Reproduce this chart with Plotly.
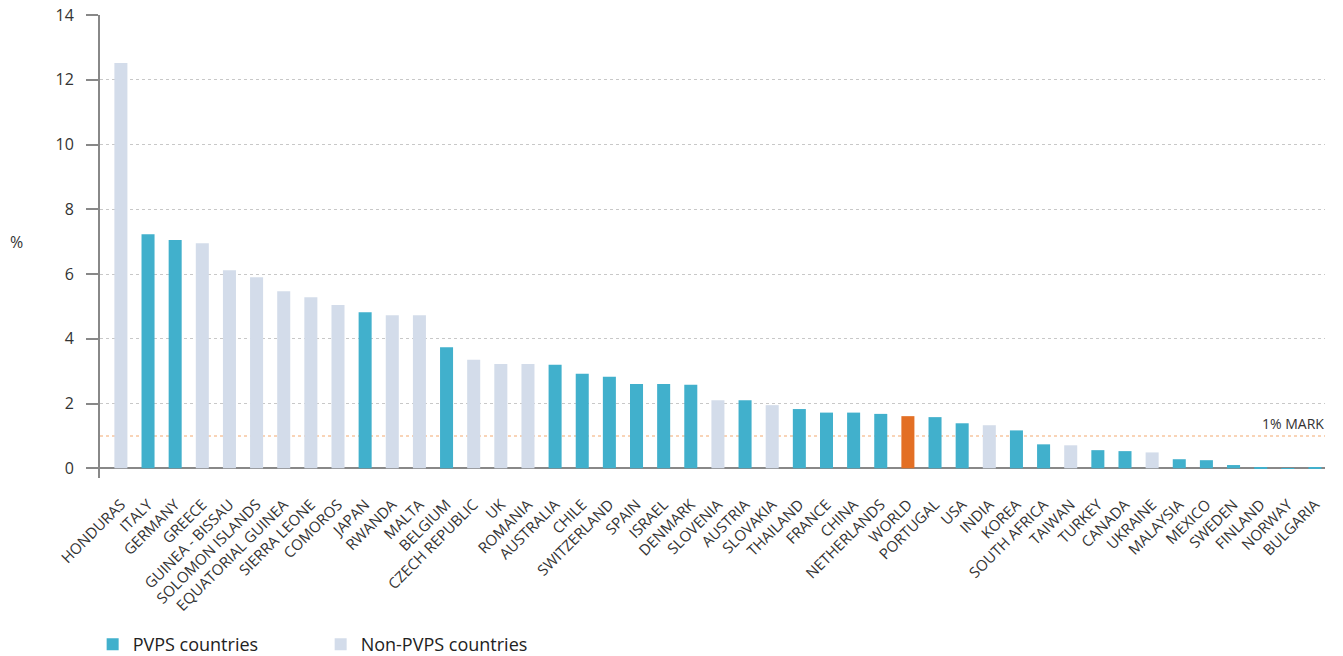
import plotly.graph_objects as go

# Share values (%), in display order
countries = [
    "HONDURAS", "ITALY", "GERMANY", "GREECE", "GUINEA - BISSAU",
    "SOLOMON ISLANDS", "EQUATORIAL GUINEA", "SIERRA LEONE", "COMOROS",
    "JAPAN", "RWANDA", "MALTA", "BELGIUM", "CZECH REPUBLIC", "UK",
    "ROMANIA", "AUSTRALIA", "CHILE", "SWITZERLAND", "SPAIN", "ISRAEL",
    "DENMARK", "SLOVENIA", "AUSTRIA", "SLOVAKIA", "THAILAND", "FRANCE",
    "CHINA", "NETHERLANDS", "WORLD", "PORTUGAL", "USA", "INDIA", "KOREA",
    "SOUTH AFRICA", "TAIWAN", "TURKEY", "CANADA", "UKRAINE", "MALAYSIA",
    "MEXICO", "SWEDEN", "FINLAND", "NORWAY", "BULGARIA",
]
values = [
    12.52, 7.23, 7.05, 6.95, 6.12,
    5.90, 5.47, 5.28, 5.04,
    4.82, 4.73, 4.73, 3.74, 3.35, 3.22,
    3.22, 3.20, 2.92, 2.83, 2.60, 2.60,
    2.58, 2.10, 2.10, 1.95, 1.83, 1.72,
    1.72, 1.68, 1.61, 1.58, 1.39, 1.33, 1.17,
    0.74, 0.71, 0.56, 0.53, 0.49, 0.28,
    0.25, 0.10, 0.02, 0.005, 0.02,
]
# group: "pvps", "non", "world"
groups = [
    "non", "pvps", "pvps", "non", "non",
    "non", "non", "non", "non",
    "pvps", "non", "non", "pvps", "non", "non",
    "non", "pvps", "pvps", "pvps", "pvps", "pvps",
    "pvps", "non", "pvps", "non", "pvps", "pvps",
    "pvps", "pvps", "world", "pvps", "pvps", "non", "pvps",
    "pvps", "non", "pvps", "pvps", "non", "pvps",
    "pvps", "pvps", "pvps", "pvps", "pvps",
]
mark_level = 1.0

TEAL = "#41b0cc"
LIGHT = "#d3dcea"
ORANGE = "#e36f24"
FONT = "Open Sans"


def subset(g):
    xs = [c for c, gg in zip(countries, groups) if gg == g]
    ys = [v for v, gg in zip(values, groups) if gg == g]
    return xs, ys


fig = go.Figure()

for key, name, color, show in [
    ("pvps", "PVPS countries", TEAL, True),
    ("non", "Non-PVPS countries", LIGHT, True),
    ("world", "World", ORANGE, False),
]:
    xs, ys = subset(key)
    fig.add_trace(
        go.Bar(
            x=xs,
            y=ys,
            name=name,
            marker=dict(color=color, line=dict(width=0)),
            width=0.48,
            showlegend=show,
        )
    )

# 1% mark line and label
fig.add_shape(
    type="line",
    xref="paper",
    yref="y",
    x0=0,
    x1=1,
    y0=mark_level,
    y1=mark_level,
    line=dict(color="#f8c6a0", width=1.5, dash="dot"),
    layer="below",
)
fig.add_annotation(
    xref="paper",
    yref="y",
    x=1.001,
    y=mark_level,
    text="1% MARK",
    showarrow=False,
    xanchor="right",
    yanchor="bottom",
    yshift=1,
    font=dict(family=FONT, size=14, color="#333333"),
)
fig.add_annotation(
    xref="paper",
    yref="paper",
    x=-0.068,
    y=0.51,
    text="%",
    showarrow=False,
    xanchor="center",
    yanchor="middle",
    font=dict(family=FONT, size=16, color="#333333"),
)

fig.update_layout(
    width=1343,
    height=656,
    margin=dict(l=100, r=18, t=15, b=178, autoexpand=False),
    plot_bgcolor="white",
    paper_bgcolor="white",
    barmode="overlay",
    bargap=0.5,
    font=dict(family=FONT, color="#333333"),
    legend=dict(
        orientation="h",
        x=-0.006,
        xanchor="left",
        y=-0.32,
        yanchor="top",
        font=dict(family=FONT, size=18, color="#222222"),
        itemwidth=30,
        traceorder="normal",
        entrywidth=183,
    ),
    xaxis=dict(
        type="category",
        categoryorder="array",
        categoryarray=countries,
        range=[-0.77, 44.37],
        tickangle=-45,
        tickfont=dict(family=FONT, size=15, color="#333333"),
        showgrid=False,
        showline=False,
        ticks="",
        ticklabelstandoff=14,
        automargin=False,
    ),
    yaxis=dict(
        range=[-0.3, 14],
        tickvals=[0, 2, 4, 6, 8, 10, 12, 14],
        tickfont=dict(family=FONT, size=16, color="#333333"),
        showgrid=True,
        gridcolor="#c8c8c8",
        griddash="dot",
        gridwidth=1,
        showline=True,
        linecolor="#888888",
        linewidth=2,
        ticks="outside",
        ticklen=12,
        tickwidth=2,
        tickcolor="#888888",
        zeroline=True,
        zerolinecolor="#888888",
        zerolinewidth=1.5,
        ticklabelstandoff=9,
        automargin=False,
    ),
)

# drop the browser's default page margin so the figure sits at the top-left
fig.write_html(
    "out.html",
    config={"displayModeBar": False},
    post_script="document.body.style.margin='0px';",
)
